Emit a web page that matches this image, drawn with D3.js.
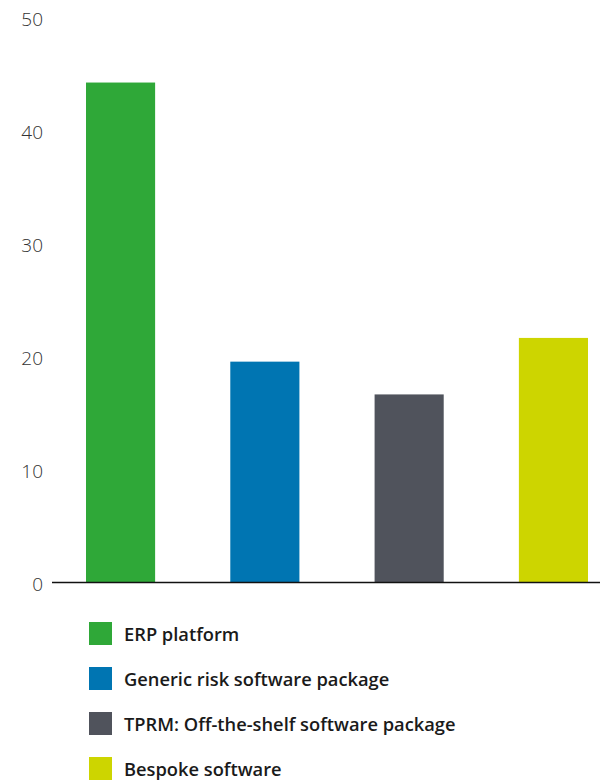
<!DOCTYPE html>
<html>
<head>
<meta charset="utf-8">
<script src="https://cdn.jsdelivr.net/npm/d3@7"></script>
<style>
  html, body { margin: 0; padding: 0; background: #fff; }
  svg { display: block; }
</style>
</head>
<body>
<svg id="chart" width="600" height="781"></svg>
<script>
const categories = ["ERP platform", "Generic risk software package", "TPRM: Off-the-shelf software package", "Bespoke software"];
const values = [44.2, 19.5, 16.6, 21.6];
const colors = ["#2fa838", "#0075b2", "#50535c", "#cdd500"];
const yTicks = [0, 10, 20, 30, 40, 50];

const svg = d3.select("#chart");

const y = d3.scaleLinear().domain([0, 50]).range([582, 17]);
const x = d3.scaleBand().domain(categories).range([86, 588]).paddingInner(0.521).paddingOuter(0);

// y labels
const yAxis = d3.axisLeft(y).tickValues(yTicks).tickSize(0).tickPadding(0);
const gy = svg.append("g").attr("transform", "translate(43,2)").call(yAxis);
gy.select(".domain").remove();
gy.selectAll("text")
  .attr("font-family", "'Open Sans', sans-serif")
  .attr("font-weight", 300)
  .attr("font-size", 19)
  .attr("fill", "#333");

// bars
svg.append("g").selectAll("rect").data(categories).join("rect")
  .attr("x", d => x(d))
  .attr("width", x.bandwidth())
  .attr("y", (d, i) => y(values[i]))
  .attr("height", (d, i) => y(0) - y(values[i]))
  .attr("fill", (d, i) => colors[i]);

// baseline
const gx = svg.append("g").attr("transform", `translate(0,${y(0)})`)
  .call(d3.axisBottom(x).tickSize(0).tickFormat(""));
gx.select(".domain").attr("stroke", "#111").attr("stroke-width", 1.5).attr("d", "M52,0.5H600");

// legend
const legend = svg.append("g").attr("transform", "translate(89,622)");
const rows = legend.selectAll("g").data(categories).join("g")
  .attr("transform", (d, i) => `translate(0,${i * 45})`);
rows.append("rect").attr("width", 23).attr("height", 23).attr("fill", (d, i) => colors[i]);
rows.append("text")
  .attr("x", 35).attr("y", 18.5)
  .attr("font-family", "'Open Sans', sans-serif")
  .attr("font-weight", 600)
  .attr("font-size", 18.3)
  .attr("fill", "#1a1a1a")
  .text(d => d);
</script>
</body>
</html>
